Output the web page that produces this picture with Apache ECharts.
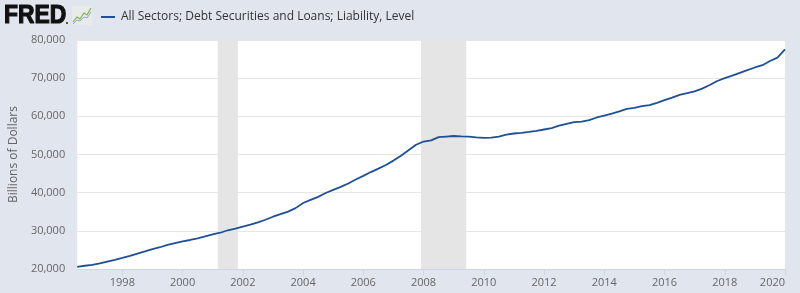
<!DOCTYPE html>
<html>
<head>
<meta charset="utf-8">
<script src="https://cdn.jsdelivr.net/npm/echarts@6/dist/echarts.min.js"></script>
<style>
html,body{margin:0;padding:0;background:#e1e6ee;}
#chart{width:800px;height:293px;}
</style>
</head>
<body>
<div id="chart"></div>
<script>
// Quarterly observation dates (YYYY-MM)
const dates = [
  '1996-07','1996-10',
  '1997-01','1997-04','1997-07','1997-10',
  '1998-01','1998-04','1998-07','1998-10',
  '1999-01','1999-04','1999-07','1999-10',
  '2000-01','2000-04','2000-07','2000-10',
  '2001-01','2001-04','2001-07','2001-10',
  '2002-01','2002-04','2002-07','2002-10',
  '2003-01','2003-04','2003-07','2003-10',
  '2004-01','2004-04','2004-07','2004-10',
  '2005-01','2005-04','2005-07','2005-10',
  '2006-01','2006-04','2006-07','2006-10',
  '2007-01','2007-04','2007-07','2007-10',
  '2008-01','2008-04','2008-07','2008-10',
  '2009-01','2009-04','2009-07','2009-10',
  '2010-01','2010-04','2010-07','2010-10',
  '2011-01','2011-04','2011-07','2011-10',
  '2012-01','2012-04','2012-07','2012-10',
  '2013-01','2013-04','2013-07','2013-10',
  '2014-01','2014-04','2014-07','2014-10',
  '2015-01','2015-04','2015-07','2015-10',
  '2016-01','2016-04','2016-07','2016-10',
  '2017-01','2017-04','2017-07','2017-10',
  '2018-01','2018-04','2018-07','2018-10',
  '2019-01','2019-04','2019-07','2019-10',
  '2020-01'
];
// Billions of dollars
const debtValues = [
  20550, 20850,
  21100, 21450, 21950, 22400,
  22900, 23450, 24050, 24600,
  25200, 25700, 26300, 26800,
  27250, 27600, 28050, 28550,
  29050, 29500, 30150, 30600,
  31100, 31600, 32200, 32900,
  33700, 34400, 35050, 35950,
  37300, 38100, 38900, 39900,
  40750, 41500, 42400, 43450,
  44400, 45400, 46300, 47250,
  48400, 49700, 51100, 52550,
  53400, 53700, 54550, 54700,
  54850, 54750, 54700, 54500,
  54350, 54400, 54700, 55200,
  55500, 55650, 55900, 56200,
  56550, 56900, 57550, 58050,
  58500, 58600, 59000, 59700,
  60200, 60700, 61300, 61950,
  62200, 62650, 62950, 63550,
  64250, 64900, 65600, 66050,
  66550, 67250, 68200, 69250,
  70000, 70650, 71400, 72100,
  72800, 73400, 74500, 75400,
  77550
];
const seriesName = 'All Sectors; Debt Securities and Loans; Liability, Level';
const recessionStart = ['2001-03', '2007-12'];
const recessionEnd = ['2001-11', '2009-06'];
const xTickYears = [1998, 2000, 2002, 2004, 2006, 2008, 2010, 2012, 2014, 2016, 2018, 2020];
const yTicks = [20000, 30000, 40000, 50000, 60000, 70000, 80000];
const yAxisTitle = 'Billions of Dollars';

function toYear(s) {
  const p = s.split('-');
  return Number(p[0]) + (Number(p[1]) - 1) / 12;
}
const seriesData = dates.map((d, i) => [toYear(d), debtValues[i]]);
const recAreas = recessionStart.map((s, i) => [{ xAxis: toYear(s) }, { xAxis: toYear(recessionEnd[i]) }]);

const chart = echarts.init(document.getElementById('chart'), null, { renderer: 'canvas' });
const FONT = '"Open Sans", sans-serif';
chart.setOption({
  backgroundColor: '#e1e6ee',
  animation: false,
  textStyle: { fontFamily: FONT },
  legend: {
    left: 96, top: 6,
    itemWidth: 14, itemHeight: 2, itemGap: 10,
    icon: 'rect',
    textStyle: { fontSize: 12, color: '#333', fontFamily: FONT, padding: [0, 0, 0, 1] },
    data: [seriesName]
  },
  graphic: [
    { type: 'text', x: 4, y: 3, scaleX: 0.88,
      style: { text: 'FRED', font: 'bold 26px "Liberation Sans"', fill: '#111', stroke: '#111', lineWidth: 1.2 } },
    { type: 'circle', shape: { cx: 67, cy: 23, r: 0.9 }, style: { fill: '#111' } },
    { type: 'rect', shape: { x: 72, y: 6, width: 20, height: 19 }, style: { fill: '#e8ebe8' } },
    { type: 'polyline', shape: { points: [[73, 22], [77, 17], [80, 19], [84, 13], [87, 15], [91, 8]] },
      style: { stroke: '#7fb04a', lineWidth: 1.2, fill: null } },
    { type: 'polyline', shape: { points: [[73, 24], [77, 20], [80, 21], [84, 17], [87, 18], [91, 12]] },
      style: { stroke: '#8aa6c9', lineWidth: 1, fill: null } }
  ],
  grid: { left: 76, right: 15, top: 40, bottom: 24, show: true, backgroundColor: '#ffffff', borderWidth: 0 },
  xAxis: {
    type: 'value',
    min: toYear(dates[0]),
    max: toYear(dates[dates.length - 1]),
    axisLine: { show: true, lineStyle: { color: '#ccd6eb', width: 1 } },
    axisTick: { show: true, customValues: xTickYears, length: 6, lineStyle: { color: '#ccd6eb' } },
    axisLabel: { customValues: xTickYears, color: '#666', fontSize: 11, fontFamily: FONT, margin: 8,
      alignMaxLabel: 'right', formatter: v => String(Math.round(v)) },
    splitLine: { show: false }
  },
  yAxis: {
    type: 'value',
    min: yTicks[0], max: yTicks[yTicks.length - 1], interval: 10000,
    name: yAxisTitle, nameLocation: 'middle', nameGap: 55,
    nameTextStyle: { color: '#666', fontSize: 12, fontFamily: FONT },
    axisLine: { show: false }, axisTick: { show: false },
    axisLabel: { color: '#666', fontSize: 11, fontFamily: FONT, margin: 12,
      formatter: v => v.toLocaleString('en-US') },
    splitLine: { lineStyle: { color: '#e6e6e6', width: 1 } }
  },
  series: [{
    name: seriesName,
    type: 'line',
    data: seriesData,
    showSymbol: false,
    symbol: 'none',
    lineStyle: { color: '#1f5096', width: 1.8 },
    itemStyle: { color: '#1f5096' },
    markArea: {
      silent: true,
      itemStyle: { color: '#e5e5e5' },
      data: recAreas
    },
    z: 3
  }]
});
</script>
</body>
</html>
